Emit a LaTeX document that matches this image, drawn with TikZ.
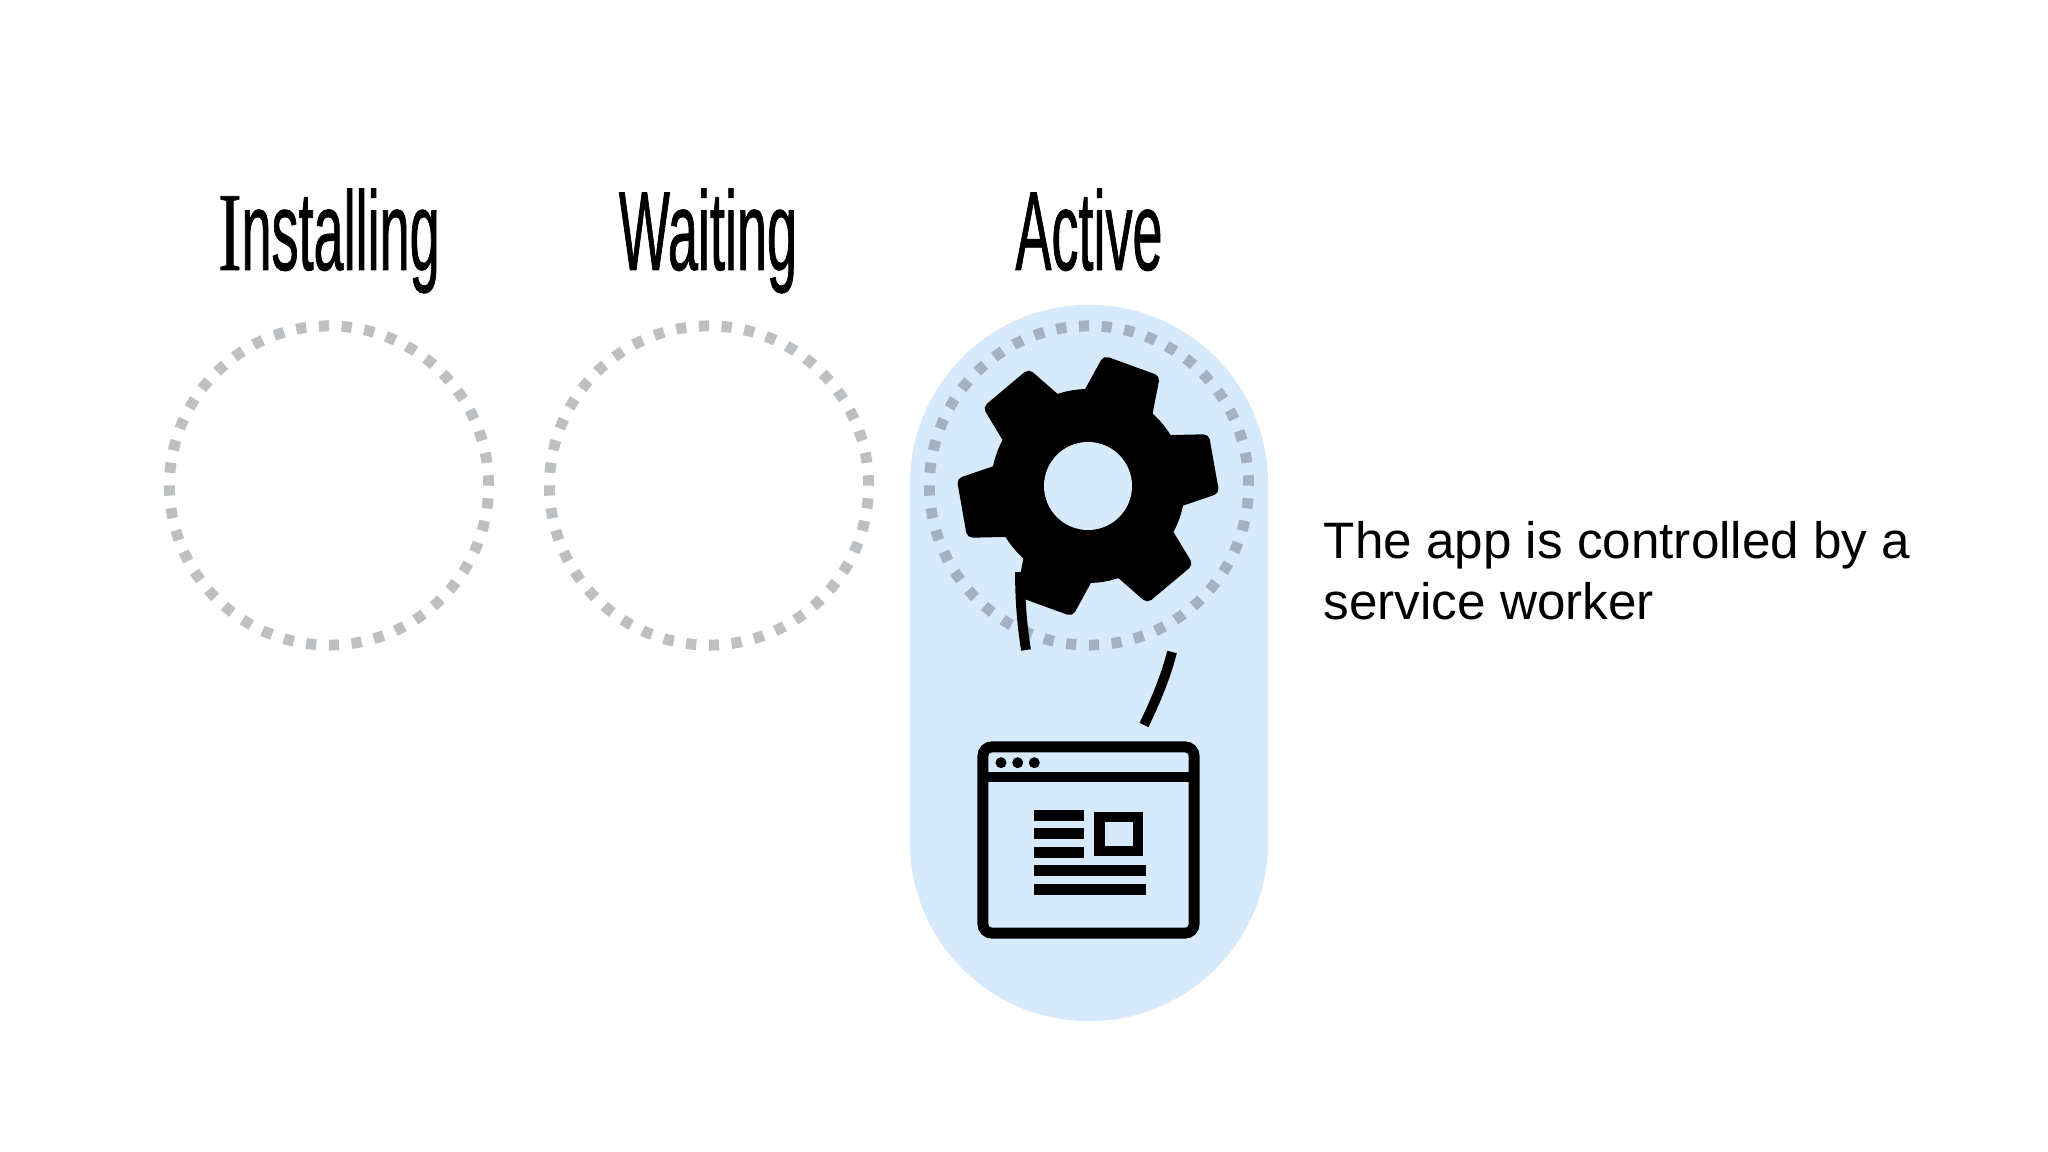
\documentclass[tikz,border=0pt]{standalone}
\usepackage{fontspec}
\setmainfont{Liberation Sans}
\newfontfamily\handfont[FakeStretch=0.48,FakeBold=0.6]{Liberation Sans}
\newfontfamily\handserif[FakeStretch=0.62,FakeBold=0.6]{Liberation Serif}
\definecolor{pillblue}{HTML}{D7EAFC}
\definecolor{ringgray}{HTML}{BCC0C2}
\definecolor{ringblue}{HTML}{A3B1C1}
\tikzset{
  ring/.style={circle,draw=ringgray,line width=3.1pt,dash pattern=on 2.9pt off 3.58pt,
    minimum size=3.19cm,inner sep=0pt,outer sep=0pt},
  title/.style={anchor=base,font=\handfont\fontsize{32}{36}\selectfont},
  bar/.style={line width=3.1pt,black},
  wire/.style={line width=2.8pt,black}
}

\begin{document}
\begin{tikzpicture}[x=0.01cm,y=-0.01cm]
\useasboundingbox (0,0) rectangle (2048,1152);

\node[fill=pillblue,minimum width=3.58cm,minimum height=7.16cm,rounded corners=1.79cm,
  inner sep=0pt,outer sep=0pt] (activepill) at (1089,663) {};

\node[ring] (installing) at (329,485.5) {};
\node[ring] (waiting) at (709,485.5) {};
\node[ring,draw=ringblue] (active) at (1089,485.5) {};

\node[title] (installinglabel) at (329,270) {{\handserif I}nstalling};
\node[title] (waitinglabel) at (708,270) {Waiting};
\node[title] (activelabel) at (1089,270) {Active};

% gear
\fill[black] (1088,486) circle (97);
\foreach \a in {10,70,...,310}
  \fill[black,shift={(1088,486)},rotate=\a,rounded corners=1.5pt]
    (70,-39) -- (128,-30) -- (128,30) -- (70,39) -- cycle;
\fill[pillblue] (1088,486) circle (44);

% lines
\coordinate (wiretop) at (1020,572);
\coordinate (wirefoot) at (1026,650);
\coordinate (wireright) at (1172,652);
\coordinate (wirelow) at (1144,725);
\draw[wire] (wiretop) .. controls (1020,600) and (1022,625) .. (wirefoot);
\draw[wire] (wireright) .. controls (1166,676) and (1156,700) .. (wirelow);

% browser window
\node[draw=black,line width=3.1pt,rounded corners=2.5pt,minimum width=2.11cm,minimum height=1.86cm,
  inner sep=0pt,outer sep=0pt] (window) at (1088.5,840) {};
\draw[bar] (983,777) -- (1194,777);
\foreach \x in {1001,1017.7,1034.3}
  \fill[black] (\x,762.7) circle (5.5);
\foreach \y in {815.5,833.7,852.3}
  \draw[bar] (1034,\y) -- (1084,\y);
\foreach \y in {870.7,889.3}
  \draw[bar] (1034,\y) -- (1146,\y);
\draw[bar] (1099.5,817) rectangle (1138,851);

\node[anchor=west,align=left,inner sep=0pt,font=\fontsize{14.57}{17.4}\selectfont] (caption) at (1323,571)
  {The app is controlled by a\\service worker};
\end{tikzpicture}
\end{document}
